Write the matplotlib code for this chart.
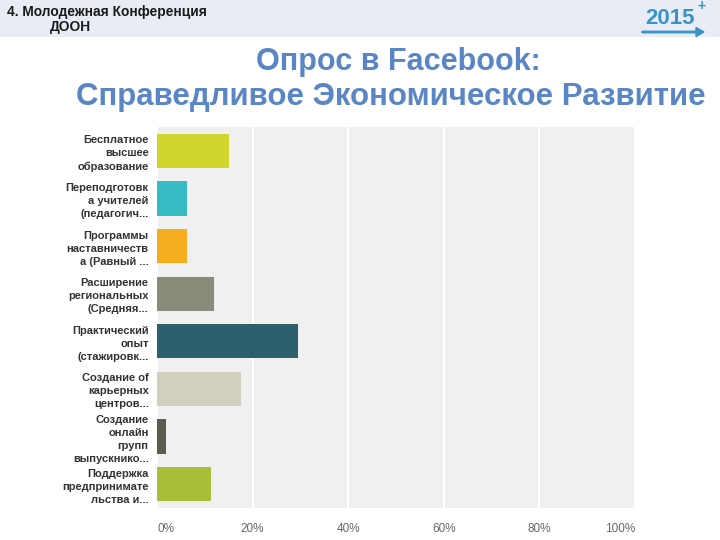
import matplotlib
matplotlib.use("Agg")
import matplotlib.pyplot as plt
from matplotlib.patches import Rectangle, FancyArrow

plt.rcParams['font.family'] = ['Liberation Sans', 'DejaVu Sans']

labels = [
    "Бесплатное\nвысшее\nобразование",
    "Переподготовк\nа учителей\n(педагогич...",
    "Программы\nнаставничеств\nа (Равный ...",
    "Расширение\nрегиональных\n(Средняя...",
    "Практический\nопыт\n(стажировк...",
    "Создание of\nкарьерных\nцентров...",
    "Создание\nонлайн\nгрупп\nвыпускнико...",
    "Поддержка\nпредпринимате\nльства и...",
]
values = [15.1, 6.2, 6.2, 11.9, 29.6, 17.5, 1.8, 11.2]
colors = ["#d0d52e", "#36bcc3", "#f6ae1f", "#8a8a7a",
          "#2e5f6d", "#d0cfc0", "#5b5b4f", "#a8bd38"]
ticks = [0, 20, 40, 60, 80, 100]

fig = plt.figure(figsize=(7.2, 5.4), dpi=100)

# header band
fig.patches.append(Rectangle((0, 1 - 37 / 540), 1, 37 / 540, transform=fig.transFigure,
                             facecolor="#e8ecf5", edgecolor="none", zorder=0))
fig.text(7 / 720, 1 - 12 / 540, "4. Молодежная Конференция", fontsize=9.9,
         fontweight="bold", color="#1a1a1a", va="center")
fig.text(50 / 720, 1 - 27 / 540, "ДООН", fontsize=9.9, fontweight="bold",
         color="#1a1a1a", va="center")

# logo
fig.text(670 / 720, 1 - 18 / 540, "2015", fontsize=16, fontweight="bold",
         color="#3a93c8", ha="center", va="center")
fig.text(701 / 720, 1 - 6 / 540, "+", fontsize=10, fontweight="bold",
         color="#3a93c8", ha="center", va="center")
fig.patches.append(FancyArrow(642 / 720, 1 - 32 / 540, 62 / 720, 0, width=1.5 / 540,
                              head_width=9 / 540, head_length=8 / 720,
                              length_includes_head=True, transform=fig.transFigure,
                              color="#3a93c8"))

# title
fig.text(398 / 720, 1 - 62 / 540, "Опрос в Facebook:", fontsize=22, fontweight="bold",
         color="#5a86c6", ha="center", va="center")
fig.text(391 / 720, 1 - 97 / 540, "Справедливое Экономическое Развитие", fontsize=22.5,
         fontweight="bold", color="#5a86c6", ha="center", va="center")

ax = fig.add_axes([157 / 720, 1 - 508 / 540, 478 / 720, 381 / 540])
ax.set_facecolor("#f0f0f0")
y = list(range(len(values)))
ax.barh(y, values, height=0.72, color=colors, zorder=3)
ax.set_xlim(0, 100)
ax.set_ylim(len(values) - 0.5, -0.5)
ax.set_xticks(ticks)
ax.set_xticklabels([f"{t}%" for t in ticks], fontsize=8.5, color="#666666")
xl = ax.get_xticklabels()
xl[0].set_horizontalalignment("left")
xl[-1].set_horizontalalignment("right")
ax.set_yticks(y)
ax.set_yticklabels(labels, fontsize=8, fontweight="bold", color="#333333",
                   linespacing=1.38)
ax.tick_params(length=0, axis="x", pad=11)
ax.tick_params(length=0, axis="y", pad=6)
ax.grid(axis="x", color="white", linewidth=1.5, zorder=1)
for s in ax.spines.values():
    s.set_visible(False)

fig.savefig("out.png", dpi=100)
